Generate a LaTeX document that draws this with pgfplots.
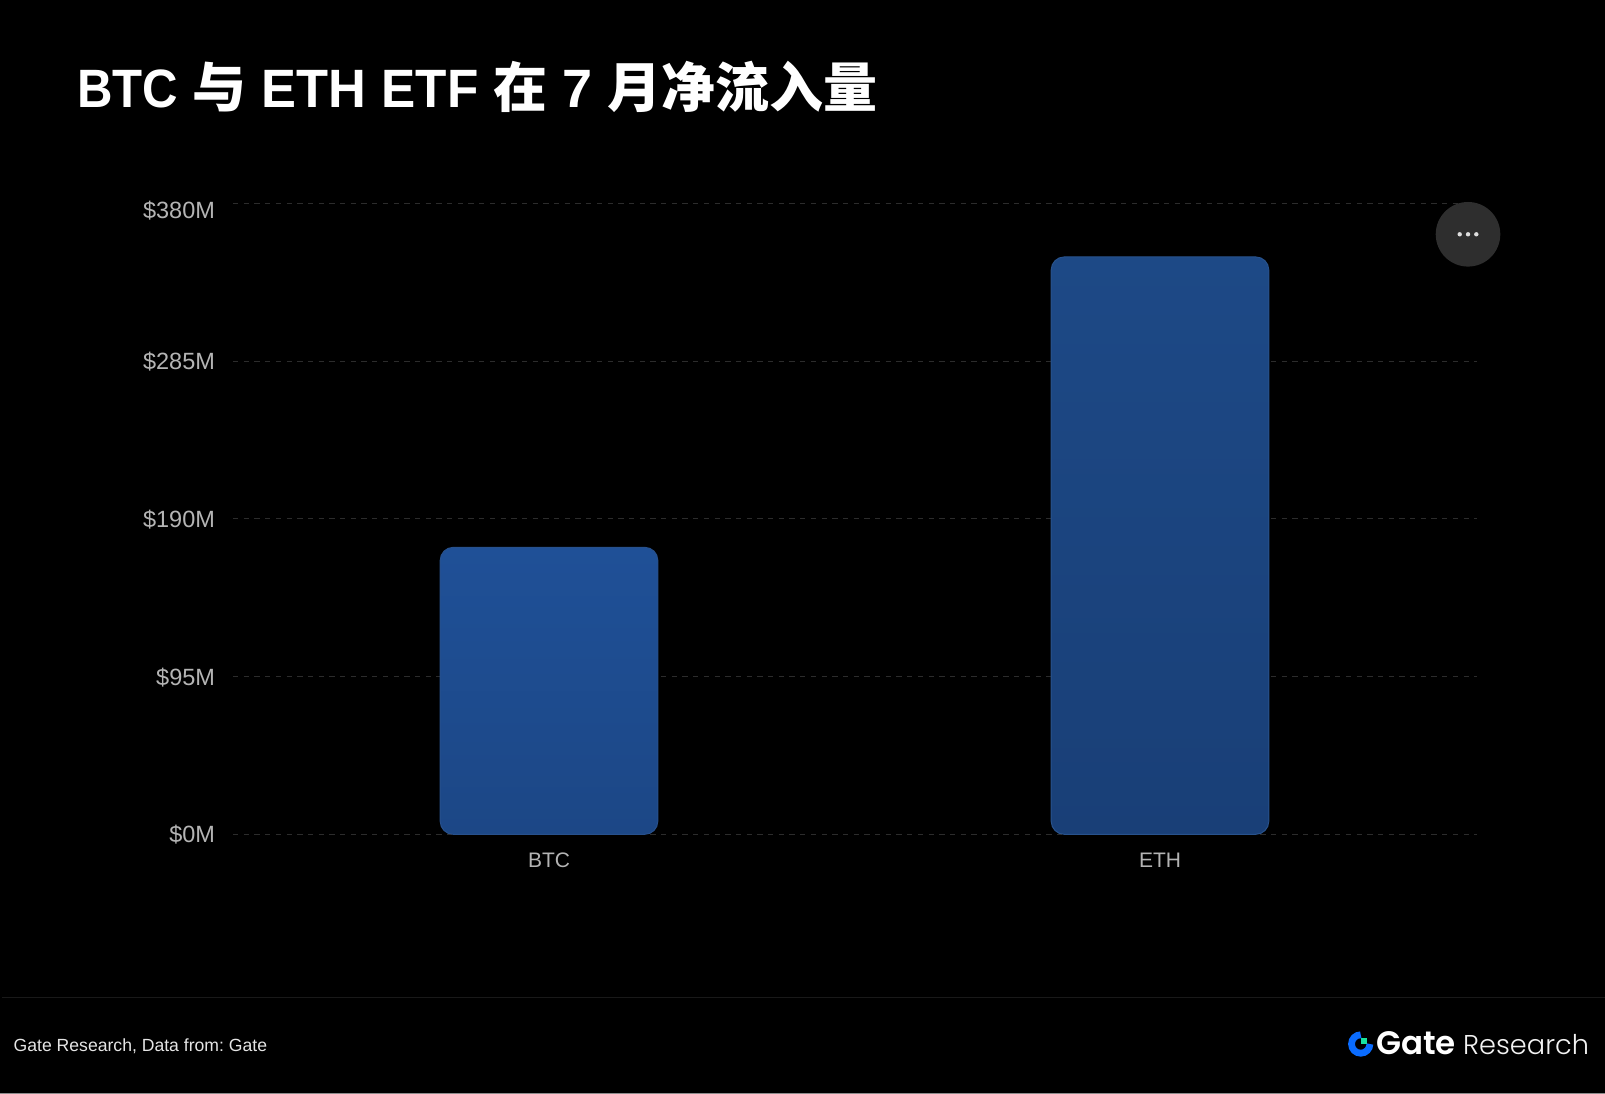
\documentclass[border=0pt]{standalone}
\usepackage{pgfplots}
\pgfplotsset{compat=1.18}
\usepackage{fontspec}
\setmainfont{Liberation Sans}
\newfontfamily\cjk{Noto Sans CJK SC}
\newfontfamily\pop{Poppins}[UprightFont=* SemiBold]
\newfontfamily\popl{Poppins}[UprightFont=* Light]
\definecolor{bga}{HTML}{1F5097}
\definecolor{bgb}{HTML}{1C4786}
\definecolor{eta}{HTML}{1D4986}
\definecolor{etb}{HTML}{193F77}
\definecolor{gridc}{HTML}{2C2C2C}
\definecolor{tickc}{HTML}{B4B4B4}
\definecolor{logob}{HTML}{0A6CFF}
\definecolor{logog}{HTML}{17E3A0}
\frenchspacing
\begin{document}
\begin{tikzpicture}[x=1pt,y=1pt]
\path[use as bounding box] (0,0) rectangle (1605,1094);
\fill[black] (0,0) rectangle (1605,1094);
\draw[color=black!45!white,line width=1pt] (0,0.5) -- (1605,0.5);
\draw[color=black!90!white,line width=1pt] (2,96.5) -- (1605,96.5);
\node[anchor=base west,inner sep=0,text=white,font=\fontsize{54}{54}\selectfont\bfseries] at (76.8,986)
  {{\addfontfeature{FakeStretch=0.91}BTC} {\cjk 与} {\addfontfeature{FakeStretch=0.97}ETH} {\addfontfeature{FakeStretch=0.95}ETF} {\cjk 在} 7 {\cjk 月净流入量}};
\begin{axis}[
  at={(233pt,259.7pt)},anchor=south west,
  scale only axis,width=1244pt,height=631pt,
  xmin=-0.5172,xmax=1.5188,ymin=0,ymax=380,
  clip=false,
  axis line style={draw=none},
  major tick style={draw=none},
  xtick={0,1},xticklabels={BTC,ETH},
  ytick={0,95,190,285,380},
  yticklabels={\$0M,\$95M,\$190M,\$285M,{\raisebox{0pt}[30pt][0pt]{\$380M}}},
  ymajorgrids,
  major grid style={color=gridc,line width=1pt,dash pattern=on 5.3pt off 5.4pt},
  ytick pos=left,xtick pos=bottom,
  yticklabel style={font=\fontsize{23.5}{25}\selectfont,text=tickc,xshift=-14.5pt,yshift=-0.7pt},
  xticklabel style={font=\fontsize{21}{23}\selectfont,text=tickc,text height=16pt,text depth=0pt,yshift=-14pt},
]
\addplot[ybar,bar shift=0pt,bar width=217.6pt,rounded corners=13pt,top color=bga,bottom color=bgb,draw=bgb!95!white,line width=1pt]
  coordinates {(0,172.8)};
\addplot[ybar,bar shift=0pt,bar width=217.6pt,rounded corners=13pt,top color=eta,bottom color=etb,draw=eta!95!white,line width=1pt]
  coordinates {(1,347.7)};
\end{axis}
% menu button
\fill[color=black!82!white] (1468,859.7) circle (32.3);
\foreach \d in {-8.3,0,8.3} \fill[color=black!13!white] (1468+\d,859.7) circle (2.2);
% footer
\node[anchor=base west,inner sep=0,text=black!10!white,font=\fontsize{17.6}{19}\selectfont] at (13.5,42.3) {Gate Research, Data from: Gate};
% logo
\draw[color=logob,line width=6.8pt] (1360.7,1094-1034.8) arc[start angle=90,end angle=360,radius=9.2];
\fill[color=logog] (1361,1094-1044.3) rectangle (1367,1094-1038.3);
\node[anchor=base west,inner sep=0,text=white,font=\pop\fontsize{32.5}{33}\selectfont] at (1376,1094-1055) {Gate};
\node[anchor=base west,inner sep=0,text=black!5!white,font=\popl\fontsize{27.2}{28}\selectfont] at (1463,1094-1055) {Research};
\end{tikzpicture}
\end{document}
